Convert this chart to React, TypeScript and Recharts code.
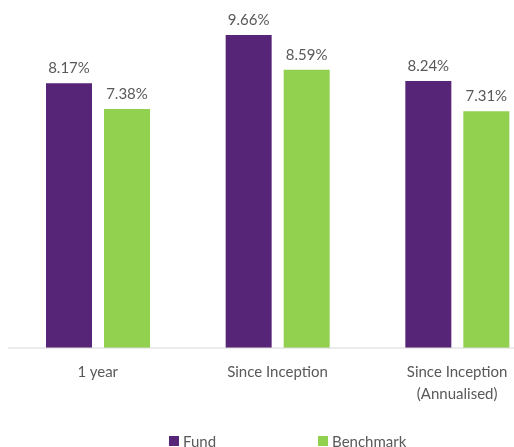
import React from 'react'
import { Bar, BarChart, LabelList, Legend, XAxis, YAxis } from 'recharts'

const categories = ['1 year', 'Since Inception', 'Since Inception (Annualised)']
const fundValues = [8.17, 9.66, 8.24]
const benchmarkValues = [7.38, 8.59, 7.31]

const FUND = '#572577'
const BENCH = '#92D050'
const TEXT = '#595959'
const FONT = 'Lato, "Open Sans", sans-serif'

const data = categories.map((name, i) => ({
  name,
  fund: fundValues[i],
  benchmark: benchmarkValues[i],
}))

function CategoryTick(props: any) {
  const { x, y, payload } = props
  const text: string = payload.value
  const idx = text.indexOf(' (')
  const lines = idx >= 0 ? [text.slice(0, idx), text.slice(idx + 1)] : [text]
  return (
    <text x={x} y={y} textAnchor="middle" fill={TEXT} fontSize={15} fontFamily={FONT}>
      {lines.map((line, i) => (
        <tspan key={i} x={x} dy={i === 0 ? 21 : 22}>
          {line}
        </tspan>
      ))}
    </text>
  )
}

function LegendContent() {
  const items = [
    { label: 'Fund', color: FUND },
    { label: 'Benchmark', color: BENCH },
  ]
  return (
    <div style={{ display: 'flex', gap: 102, fontFamily: FONT, fontSize: 15, color: TEXT }}>
      {items.map((it) => (
        <div key={it.label} style={{ display: 'flex', alignItems: 'center' }}>
          <span style={{ width: 10, height: 10, background: it.color, marginRight: 4, display: 'inline-block' }} />
          <span>{it.label}</span>
        </div>
      ))}
    </div>
  )
}

export default function App() {
  return (
    <div style={{ position: 'fixed', top: 8, left: 8, width: 506, height: 439, overflow: 'hidden' }}>
      <BarChart
        width={539}
        height={439}
        data={data}
        margin={{ top: 16, right: 0, left: 0, bottom: 39 }}
        barGap={12}
      >
        <XAxis
          dataKey="name"
          height={60}
          tickLine={false}
          axisLine={{ stroke: '#d9d9d9' }}
          tick={<CategoryTick />}
          interval={0}
        />
        <YAxis hide domain={[0, 10]} />
        <Legend
          verticalAlign="middle"
          align="center"
          content={<LegendContent />}
          wrapperStyle={{ top: 424, left: 161, width: 320, height: 20 }}
        />
        <Bar dataKey="fund" name="Fund" fill={FUND} barSize={46} isAnimationActive={false}>
          <LabelList
            dataKey="fund"
            position="top"
            offset={10}
            formatter={(v: any) => `${Number(v).toFixed(2)}%`}
            style={{ fill: TEXT, fontSize: 15, fontFamily: FONT }}
          />
        </Bar>
        <Bar dataKey="benchmark" name="Benchmark" fill={BENCH} barSize={46} isAnimationActive={false}>
          <LabelList
            dataKey="benchmark"
            position="top"
            offset={10}
            formatter={(v: any) => `${Number(v).toFixed(2)}%`}
            style={{ fill: TEXT, fontSize: 15, fontFamily: FONT }}
          />
        </Bar>
      </BarChart>
    </div>
  )
}
